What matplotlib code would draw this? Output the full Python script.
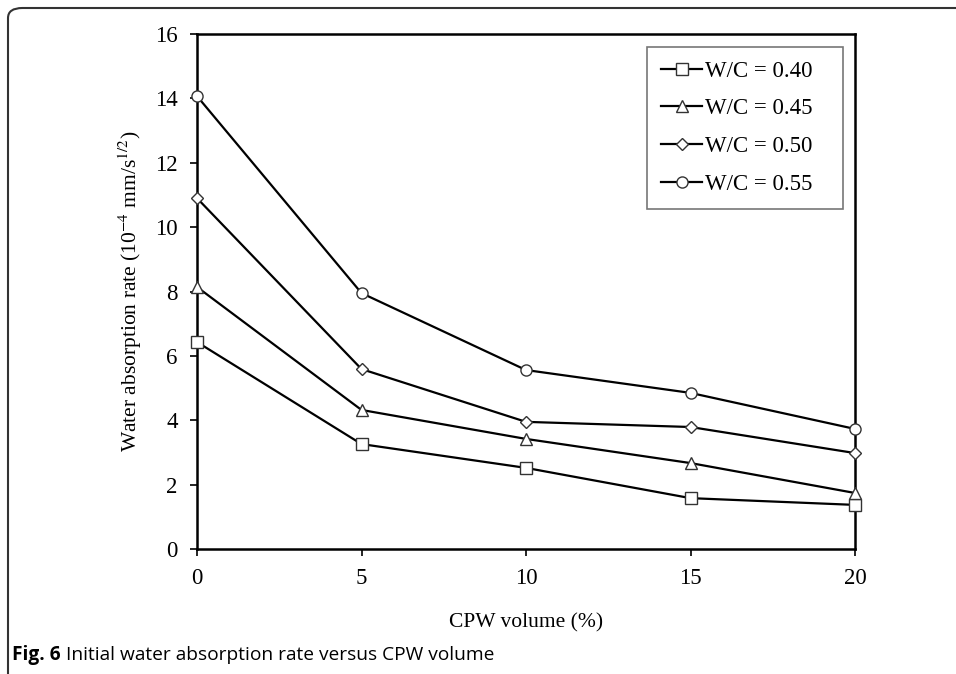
import matplotlib
matplotlib.use("Agg")
import matplotlib.pyplot as plt
from matplotlib.patches import FancyBboxPatch

cpw = [0, 5, 10, 15, 20]
wc040 = [6.43, 3.26, 2.52, 1.58, 1.37]
wc045 = [8.14, 4.32, 3.42, 2.67, 1.74]
wc050 = [10.90, 5.59, 3.95, 3.79, 2.98]
wc055 = [14.07, 7.95, 5.56, 4.85, 3.73]
labels = ["W/C = 0.40", "W/C = 0.45", "W/C = 0.50", "W/C = 0.55"]
markers = ["s", "^", "D", "o"]
msizes = [8, 8, 6, 8]

plt.rcParams["font.family"] = ["Liberation Serif", "DejaVu Serif"]
plt.rcParams["mathtext.fontset"] = "stix"

fig = plt.figure(figsize=(9.56, 6.74), dpi=100)
W, H = 956, 674
ax = fig.add_axes([197 / W, 1 - 549 / H, (855 - 197) / W, (549 - 34) / H])

for vals, lab, m, ms in zip([wc040, wc045, wc050, wc055], labels, markers, msizes):
    ax.plot(cpw, vals, color="black", lw=1.6, marker=m, ms=ms,
            mfc="white", mec="#333333", mew=1.0, label=lab, clip_on=False, zorder=3)

ax.set_xlim(0, 20)
ax.set_ylim(0, 16)
ax.set_xticks([0, 5, 10, 15, 20])
ax.set_yticks(range(0, 17, 2))
ax.tick_params(direction="out", length=5, width=1.2, labelsize=16.5)
ax.tick_params(axis="x", pad=9)
ax.tick_params(axis="y", pad=9)
for s in ax.spines.values():
    s.set_linewidth(1.8)
ax.set_xlabel("CPW volume (%)", fontsize=15.5, labelpad=17)
ax.set_ylabel("Water absorption rate (10$^{-4}$ mm/s$^{1/2}$)", fontsize=15.5, labelpad=8)

handles, _ = ax.get_legend_handles_labels()
leg = ax.legend(handles, [lab + "   " for lab in labels],
                loc="upper right", bbox_to_anchor=(0.982, 0.975), fontsize=16.5,
                frameon=True, fancybox=False, edgecolor="#555555",
                handlelength=1.8, handletextpad=0.1, labelspacing=0.73,
                borderpad=0.6, borderaxespad=0)
leg.get_frame().set_linewidth(1.2)

frame = FancyBboxPatch((8 / W, -0.1), 1.2, 1.1 - 8 / H,
                       boxstyle="round,pad=0,rounding_size=0.015",
                       transform=fig.transFigure, fill=False,
                       ec="#333333", lw=1.5, clip_on=False)
fig.patches.append(frame)

fig.text(12 / W, 1 - 655 / H, "Fig. 6", fontsize=13.8, fontweight="bold",
         family=["Open Sans", "DejaVu Sans"], va="center")
fig.text(66 / W, 1 - 655 / H, "Initial water absorption rate versus CPW volume",
         fontsize=13.8, family=["Open Sans", "DejaVu Sans"], va="center")

fig.savefig("out.png", dpi=100)
